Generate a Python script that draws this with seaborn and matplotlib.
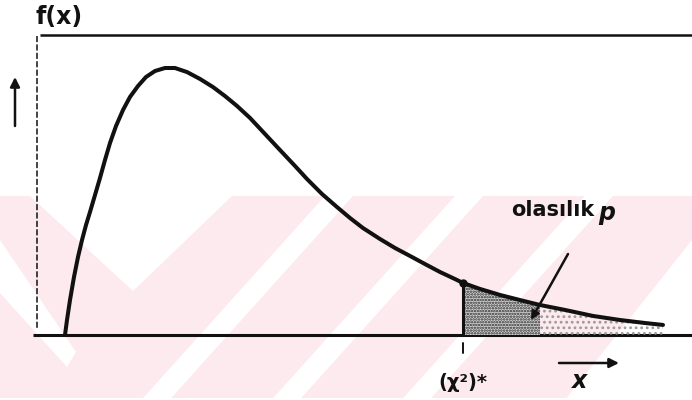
import matplotlib
matplotlib.use("Agg")
import matplotlib.pyplot as plt
import pandas as pd
import seaborn as sns
from matplotlib.patches import Polygon

# Chi-square type density, read as (x, f(x)) pairs along the curve
curve_x = [0.0, 0.05, 0.125, 0.225, 0.325, 0.425, 0.525, 0.625, 0.75, 0.875,
           1.0, 1.125, 1.275, 1.45, 1.625, 1.825, 2.025, 2.25, 2.5, 2.75,
           3.05, 3.375, 3.7, 4.0, 4.3, 4.625, 5.0, 5.375, 5.75, 6.05,
           6.425, 6.8, 7.125, 7.45, 7.875, 8.25, 8.625, 9.0, 9.375, 9.75,
           9.95, 10.375, 10.875, 11.375, 11.875, 12.5, 13.2, 13.875, 14.5, 14.95]
curve_f = [0.0, 0.010, 0.0233, 0.0387, 0.052, 0.0633, 0.0733, 0.082, 0.0933, 0.1047,
           0.1167, 0.128, 0.1393, 0.150, 0.1587, 0.166, 0.172, 0.176, 0.178, 0.178,
           0.1753, 0.1707, 0.1653, 0.1593, 0.1527, 0.1447, 0.134, 0.1233, 0.1127, 0.104,
           0.094, 0.0853, 0.078, 0.0713, 0.064, 0.058, 0.0527, 0.0473, 0.042, 0.0373,
           0.0347, 0.0307, 0.0267, 0.0233, 0.020, 0.0167, 0.0127, 0.010, 0.008, 0.0067]

# critical value that cuts off the upper tail
critical_x = 9.95
tail_split_x = 11.875

y_label = "f(x)"
x_label = "x"
tail_label = "olasılık"
prob_symbol = "p"
critical_label = "(χ²)*"

W, H = 692, 400
X0_PX, BASE_PX, XS, YS = 65, 335, 40.0, 1500.0

sns.set_theme(style="white")
plt.rcParams["font.family"] = ["DejaVu Sans"]
plt.rcParams["hatch.linewidth"] = 1.2

fig = plt.figure(figsize=(W / 100, H / 100), dpi=100)
fig.patch.set_facecolor("white")
ax = fig.add_axes([0, 0, 1, 1])
ax.set_xlim(-X0_PX / XS, (W - X0_PX) / XS)
ax.set_ylim(-(H - BASE_PX) / YS, BASE_PX / YS)
ax.axis("off")


def fr(x, y):
    """pixel position -> axes fraction"""
    return (x / W, 1 - y / H)


# --- background stamp: pale pink band with white diagonal cut-outs ---
pink = "#fceaee"
ax.add_patch(Polygon([fr(0, 196), fr(W, 196), fr(W, 398), fr(0, 398)],
                     closed=True, transform=ax.transAxes, facecolor=pink,
                     edgecolor="none", zorder=0))
white_shapes = [
    [(30, 196), (133, 291), (232, 196)],
    [(0, 240), (76, 352), (67, 367), (0, 293)],
    [(692, 240), (692, 400), (565, 400)],
]
for top in (325, 455, 585):
    white_shapes.append([(top, 196), (top + 28, 196),
                         (top + 28 - 0.9 * 202, 398), (top - 0.9 * 202, 398)])
for shp in white_shapes:
    ax.add_patch(Polygon([fr(*p) for p in shp], closed=True,
                         transform=ax.transAxes, facecolor="white",
                         edgecolor="none", zorder=0.5))

ink = "#111111"

# --- frame: top rule, dashed left edge, baseline ---
ax.plot([40 / W, 1], [1 - 35 / H] * 2, transform=ax.transAxes,
        color=ink, lw=1.8, solid_capstyle="butt", zorder=2)
ax.plot([37 / W] * 2, [1 - 36 / H, 1 - 330 / H], transform=ax.transAxes,
        color=ink, lw=1.1, linestyle=(0, (4, 1.5)), zorder=2)
ax.plot([33 / W, 1], [1 - BASE_PX / H] * 2, transform=ax.transAxes,
        color=ink, lw=2.2, solid_capstyle="butt", zorder=2)

# --- density curve ---
df = pd.DataFrame({"x": curve_x, "f": curve_f})
sns.lineplot(data=df, x="x", y="f", sort=False, color=ink, lw=2.9,
             ax=ax, zorder=4, solid_joinstyle="round", solid_capstyle="round")

# --- shaded upper tail (stippled) ---
crit_f = curve_f[curve_x.index(critical_x)]
dense = df[(df.x >= critical_x) & (df.x <= tail_split_x)]
sparse = df[df.x >= tail_split_x]
ax.fill_between(dense.x, 0, dense.f, facecolor="#d4d4d4", edgecolor="#2a2a2a",
                hatch="......", linewidth=0, zorder=3)
ax.fill_between(sparse.x, 0, sparse.f, facecolor="none", edgecolor="#9a9a9a",
                hatch="...", linewidth=0, zorder=3)
ax.plot([critical_x, critical_x], [0, crit_f], color=ink, lw=2.2, zorder=4)
ax.plot([critical_x], [crit_f], "o", color=ink, ms=5, zorder=5)

# tick under the critical value and its label
ax.plot([critical_x, critical_x], [-8 / YS, -18 / YS], color=ink, lw=1.4)
ax.text(critical_x, -48 / YS, critical_label, ha="center", va="center",
        fontsize=14, fontweight="bold", color=ink)

# --- annotation: probability p with arrow into the tail ---
ax.text(*fr(553, 210), tail_label, transform=ax.transAxes, ha="center",
        va="center", fontsize=15, fontweight="bold", color=ink)
ax.text(*fr(607, 213), prob_symbol, transform=ax.transAxes, ha="center",
        va="center", fontsize=17, fontweight="bold", fontstyle="italic",
        color=ink)
ax.annotate("", xy=fr(531, 320), xytext=fr(568, 254),
            xycoords="axes fraction", textcoords="axes fraction",
            arrowprops=dict(arrowstyle="-|>", color=ink, lw=1.8,
                            mutation_scale=12, shrinkA=0, shrinkB=0))

# --- axis labels with direction arrows ---
ax.text(*fr(59, 17), y_label, transform=ax.transAxes, ha="center",
        va="center", fontsize=17, fontweight="bold", color=ink)
ax.annotate("", xy=fr(15, 77), xytext=fr(15, 126),
            xycoords="axes fraction", textcoords="axes fraction",
            arrowprops=dict(arrowstyle="-|>", color=ink, lw=1.8,
                            mutation_scale=14, shrinkA=0, shrinkB=0))
ax.annotate("", xy=fr(619, 363), xytext=fr(559, 363),
            xycoords="axes fraction", textcoords="axes fraction",
            arrowprops=dict(arrowstyle="-|>", color=ink, lw=1.8,
                            mutation_scale=14, shrinkA=0, shrinkB=0))
ax.text(*fr(580, 381), x_label, transform=ax.transAxes, ha="center",
        va="center", fontsize=17, fontweight="bold", fontstyle="italic",
        color=ink)

fig.savefig("out.png", dpi=100, facecolor="white")
